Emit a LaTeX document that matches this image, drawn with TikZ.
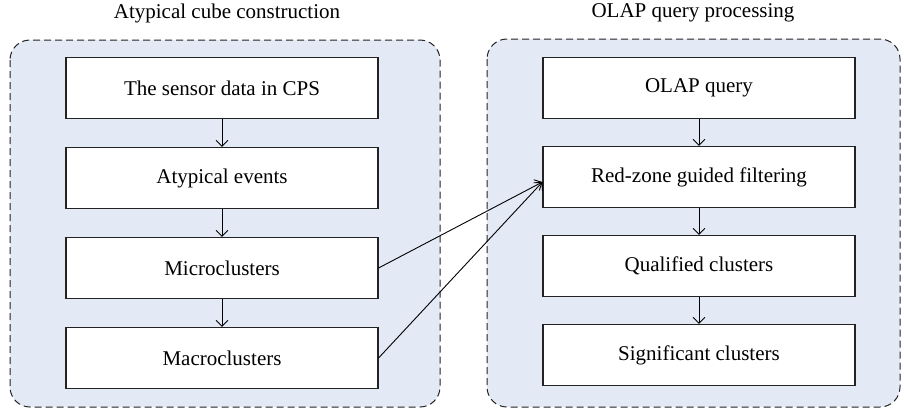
\documentclass[tikz,border=0pt]{standalone}
\usepackage{fontspec}
\setmainfont{Liberation Serif}
\usetikzlibrary{arrows.meta}
\definecolor{panelfill}{RGB}{227,234,245}
\definecolor{linegray}{RGB}{35,35,35}
\begin{document}
\begin{tikzpicture}[x=1pt,y=-1pt,
  panel/.style={draw=linegray, dash pattern=on 7pt off 4pt, line width=1pt, fill=panelfill, rounded corners=20pt},
  stepbox/.style={draw=linegray, line width=1.1pt, fill=white, minimum width=312pt, minimum height=61pt, inner sep=0pt, font=\fontsize{21}{24}\selectfont},
  title/.style={font=\fontsize{21}{24}\selectfont, inner sep=0pt},
  arr/.style={-{Straight Barb[length=6pt,width=12pt]}, line width=0.9pt, black}
]
\useasboundingbox (0,0) rectangle (904,410);
\path[panel] (10,40) rectangle (440,407);
\path[panel] (487,39) rectangle (900,407);
\node[title] (t1) at (227,13) {Atypical cube construction};
\node[title] (t2) at (693,13) {OLAP query processing};

\node[stepbox] (a1) at (222,88) {The sensor data in CPS};
\node[stepbox] (a2) at (222,178) {Atypical events};
\node[stepbox] (a3) at (222,268) {Microclusters};
\node[stepbox] (a4) at (222,358) {Macroclusters};

\node[stepbox] (b1) at (699,88) {OLAP query};
\node[stepbox] (b2) at (699,177) {Red-zone guided filtering};
\node[stepbox] (b3) at (699,266) {Qualified clusters};
\node[stepbox] (b4) at (699,355) {Significant clusters};

\draw[arr] (a1) -- (a2);
\draw[arr] (a2) -- (a3);
\draw[arr] (a3) -- (a4);
\draw[arr] (b1) -- (b2);
\draw[arr] (b2) -- (b3);
\draw[arr] (b3) -- (b4);

\coordinate (m) at ([yshift=-5pt]b2.west);
\draw[arr] (a3.east) -- (m);
\draw[arr] (a4.east) -- (m);
\end{tikzpicture}
\end{document}
